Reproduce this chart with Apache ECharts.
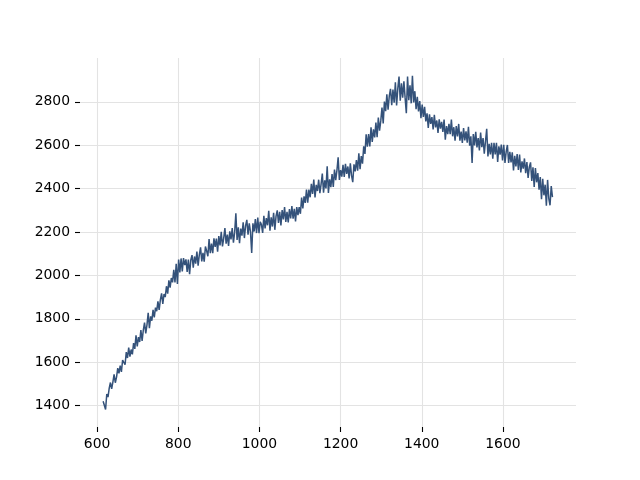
<!DOCTYPE html>
<html>
<head>
<meta charset="utf-8">
<script src="https://cdn.jsdelivr.net/npm/echarts@6/dist/echarts.min.js"></script>
<style>html,body{margin:0;padding:0;background:#fff}#c{width:640px;height:480px}</style>
</head>
<body>
<div id="c"></div>
<script>
const xValues = [
615,618,621,624,627,630,633,636,639,642,
645,648,651,654,657,660,663,666,669,672,
675,678,681,684,687,690,693,696,699,702,
705,708,711,714,717,720,723,726,729,732,
735,738,741,744,747,750,753,756,759,762,
765,768,771,774,777,780,783,786,789,792,
795,798,801,804,807,810,813,816,819,822,
825,828,831,834,837,840,843,846,849,852,
855,858,861,864,867,870,873,876,879,882,
885,888,891,894,897,900,903,906,909,912,
915,918,921,924,927,930,933,936,939,942,
945,948,951,954,957,960,963,966,969,972,
975,978,981,984,987,990,993,996,999,1002,
1005,1008,1011,1014,1017,1020,1023,1026,1029,1032,
1035,1038,1041,1044,1047,1050,1053,1056,1059,1062,
1065,1068,1071,1074,1077,1080,1083,1086,1089,1092,
1095,1098,1101,1104,1107,1110,1113,1116,1119,1122,
1125,1128,1131,1134,1137,1140,1143,1146,1149,1152,
1155,1158,1161,1164,1167,1170,1173,1176,1179,1182,
1185,1188,1191,1194,1197,1200,1203,1206,1209,1212,
1215,1218,1221,1224,1227,1230,1233,1236,1239,1242,
1245,1248,1251,1254,1257,1260,1263,1266,1269,1272,
1275,1278,1281,1284,1287,1290,1293,1296,1299,1302,
1305,1308,1311,1314,1317,1320,1323,1326,1329,1332,
1335,1338,1341,1344,1347,1350,1353,1356,1359,1362,
1365,1368,1371,1374,1377,1380,1383,1386,1389,1392,
1395,1398,1401,1404,1407,1410,1413,1416,1419,1422,
1425,1428,1431,1434,1437,1440,1443,1446,1449,1452,
1455,1458,1461,1464,1467,1470,1473,1476,1479,1482,
1485,1488,1491,1494,1497,1500,1503,1506,1509,1512,
1515,1518,1521,1524,1527,1530,1533,1536,1539,1542,
1545,1548,1551,1554,1557,1560,1563,1566,1569,1572,
1575,1578,1581,1584,1587,1590,1593,1596,1599,1602,
1605,1608,1611,1614,1617,1620,1623,1626,1629,1632,
1635,1638,1641,1644,1647,1650,1653,1656,1659,1662,
1665,1668,1671,1674,1677,1680,1683,1686,1689,1692,
1695,1698,1701,1704,1707,1710,1713,1716,1719,1722
];
const yValues = [
1420,1416,1382,1453,1439,1480,1506,1477,1508,1544,
1505,1531,1572,1548,1584,1555,1610,1605,1588,1646,
1619,1667,1625,1658,1636,1688,1661,1724,1672,1715,
1693,1748,1698,1748,1782,1732,1772,1827,1757,1811,
1791,1841,1806,1851,1835,1880,1841,1887,1917,1868,
1914,1900,1950,1916,1977,1943,1988,1968,2025,1967,
2053,1960,2073,2013,2078,2018,2080,2047,2074,2016,
2073,2005,2071,2093,2035,2087,2054,2110,2045,2095,
2129,2064,2104,2063,2133,2113,2088,2167,2102,2147,
2102,2171,2131,2170,2109,2181,2138,2201,2133,2171,
2218,2146,2188,2136,2203,2166,2218,2151,2198,2286,
2163,2221,2148,2216,2183,2245,2172,2229,2256,2188,
2240,2201,2103,2240,2202,2259,2195,2267,2194,2247,
2234,2196,2274,2216,2264,2231,2298,2206,2268,2225,
2288,2210,2273,2300,2242,2293,2230,2301,2258,2315,
2246,2293,2244,2306,2262,2319,2261,2307,2249,2315,
2278,2315,2284,2359,2309,2364,2334,2395,2335,2395,
2360,2422,2375,2442,2359,2417,2389,2441,2379,2421,
2469,2381,2438,2401,2503,2380,2443,2407,2467,2408,
2488,2439,2484,2544,2440,2485,2455,2510,2454,2514,
2468,2502,2447,2516,2460,2430,2512,2479,2531,2483,
2563,2490,2550,2515,2595,2560,2650,2593,2651,2594,
2682,2615,2673,2636,2704,2637,2727,2667,2712,2774,
2700,2801,2757,2835,2764,2827,2860,2784,2857,2796,
2890,2783,2862,2916,2805,2885,2819,2894,2818,2748,
2917,2807,2876,2793,2920,2797,2849,2766,2823,2756,
2803,2725,2787,2730,2777,2710,2747,2680,2742,2698,
2730,2673,2740,2682,2714,2657,2719,2676,2708,2661,
2718,2625,2688,2651,2698,2651,2718,2641,2683,2621,
2688,2641,2698,2621,2663,2611,2679,2622,2664,2612,
2685,2598,2641,2518,2651,2599,2662,2590,2633,2576,
2658,2591,2633,2561,2618,2676,2548,2606,2558,2611,
2538,2611,2558,2611,2523,2595,2557,2603,2530,2602,
2518,2570,2601,2518,2569,2521,2567,2484,2551,2502,
2559,2486,2557,2474,2526,2492,2539,2471,2522,2449,
2500,2521,2435,2498,2407,2495,2429,2472,2395,2453,
2351,2445,2369,2418,2321,2440,2354,2323,2412,2361
];
const xTicks = [600, 800, 1000, 1200, 1400, 1600];
const yTicks = [1400, 1600, 1800, 2000, 2200, 2400, 2600, 2800];

const seriesData = xValues.map((x, i) => [x, yValues[i]]);
const font = 'DejaVu Sans';
const fmt = v => String(v);
const chart = echarts.init(document.getElementById('c'), null, {renderer: 'canvas'});
chart.setOption({
  animation: false,
  backgroundColor: '#ffffff',
  grid: {left: 80, right: 64, top: 58, bottom: 53, containLabel: false},
  xAxis: {
    type: 'value', min: 558, max: 1780,
    axisLine: {show: false},
    axisTick: {show: true, length: 5, inside: false, customValues: xTicks, lineStyle: {color: '#000', width: 1.1}},
    axisLabel: {customValues: xTicks, formatter: fmt, margin: 10, color: '#000', fontFamily: font, fontSize: 13.9},
    splitLine: {show: true, lineStyle: {color: '#e3e3e3', width: 1.1}}
  },
  yAxis: {
    type: 'value', min: 1301, max: 3002,
    axisLine: {show: false},
    axisTick: {show: true, length: 5, inside: false, customValues: yTicks, lineStyle: {color: '#000', width: 1.1}},
    axisLabel: {customValues: yTicks, formatter: fmt, margin: 10, color: '#000', fontFamily: font, fontSize: 13.9},
    splitLine: {show: true, lineStyle: {color: '#e3e3e3', width: 1.1}}
  },
  series: [{
    type: 'line', data: seriesData, showSymbol: false, symbol: 'none',
    lineStyle: {color: '#34527a', width: 1.5}
  }]
});
</script>
</body>
</html>
